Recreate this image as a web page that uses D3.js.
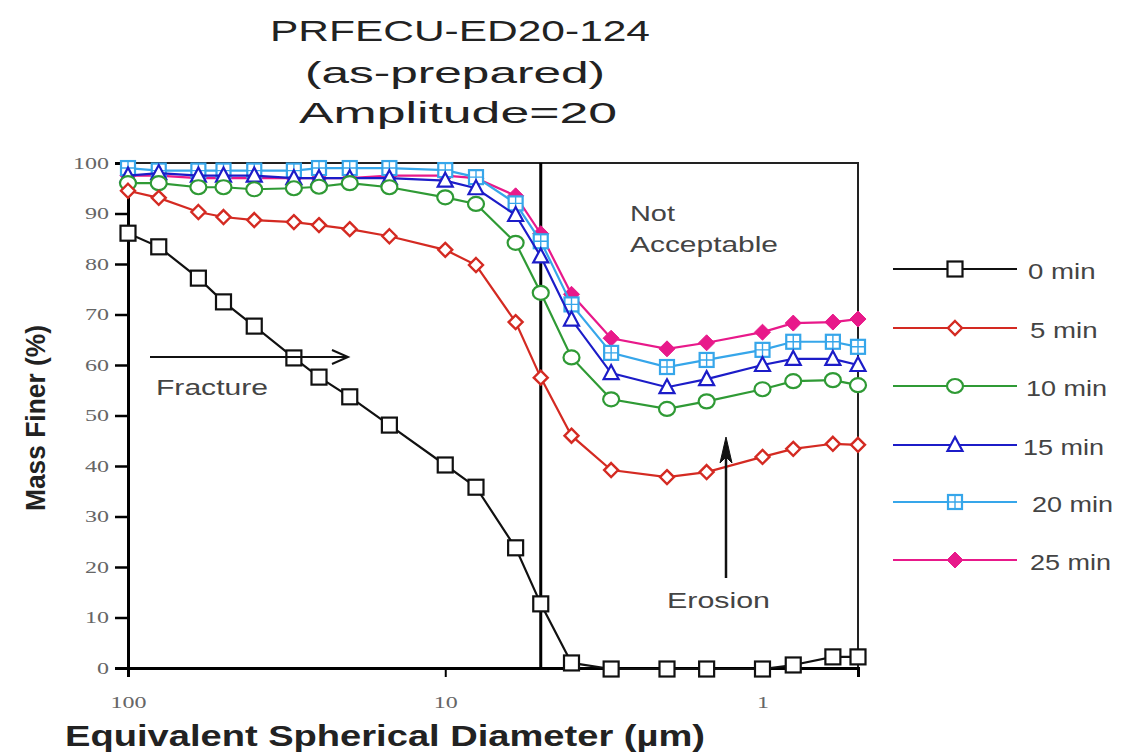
<!DOCTYPE html>
<html>
<head>
<meta charset="utf-8">
<script src="https://cdn.jsdelivr.net/npm/d3@7"></script>
<style>
  body { margin: 0; background: #fff; }
  svg { display: block; }
</style>
</head>
<body>
<svg id="chart" width="1127" height="753"></svg>
<script>
// Particle size distribution, PRFECU-ED20-124, sonication amplitude 20
const diameters = [100, 80, 60, 50, 40, 30, 25, 20, 15, 10, 8, 6, 5, 4, 3, 2, 1.5, 1, 0.8, 0.6, 0.5];
const seriesNames = ["0 min", "5 min", "10 min", "15 min", "20 min", "25 min"];
const finer0  = [86.1, 83.4, 77.2, 72.5, 67.7, 61.4, 57.6, 53.7, 48.1, 40.2, 35.8, 23.8, 12.7, 1.0, -0.2, -0.2, -0.2, -0.2, 0.6, 2.2, 2.2];
const finer5  = [94.5, 93.1, 90.3, 89.3, 88.7, 88.3, 87.7, 86.9, 85.5, 82.8, 79.8, 68.5, 57.5, 46.0, 39.2, 37.8, 38.8, 41.8, 43.4, 44.4, 44.2];
const finer10 = [96.0, 96.0, 95.2, 95.2, 94.8, 95.0, 95.3, 96.0, 95.2, 93.2, 91.9, 84.2, 74.3, 61.5, 53.2, 51.3, 52.8, 55.2, 56.8, 57.0, 56.0];
const finer15 = [97.5, 98.0, 97.5, 97.5, 97.5, 97.0, 97.0, 97.0, 97.0, 96.5, 95.0, 89.7, 81.5, 69.0, 58.4, 55.6, 57.2, 60.0, 61.2, 61.2, 60.0];
const finer20 = [99.0, 98.5, 98.5, 98.5, 98.5, 98.5, 99.0, 99.0, 99.0, 98.6, 97.2, 92.0, 84.5, 72.0, 62.4, 59.6, 61.0, 63.0, 64.6, 64.6, 63.6];
const finer25 = [97.5, 97.5, 97.0, 97.0, 97.0, 97.0, 97.0, 97.0, 97.5, 97.5, 97.0, 93.5, 86.0, 74.0, 65.3, 63.2, 64.4, 66.5, 68.3, 68.5, 69.1];
const xTickValues = [100, 10, 1];
const xTickLabels = ["100", "10", "1"];
const yTickValues = [0, 10, 20, 30, 40, 50, 60, 70, 80, 90, 100];
const cutoffDiameter = 5;

const svg = d3.select("#chart");
const plotLeft = 128, plotRight = 858, plotTop = 163, plotBottom = 668;

const x = d3.scaleLog().domain([100, 0.5]).range([plotLeft, plotRight]);
const y = d3.scaleLinear().domain([0, 100]).range([plotBottom, plotTop]);

const sans = "'Liberation Sans', Arial, sans-serif";
const serif = "'Liberation Serif', 'Times New Roman', serif";

function label(g, px, py, str, size, opts = {}) {
  const t = g.append("text")
    .attr("x", px).attr("y", py)
    .attr("font-family", opts.family || sans)
    .attr("font-size", size)
    .attr("font-weight", opts.weight || "normal")
    .attr("fill", opts.fill || "#333")
    .attr("text-anchor", opts.anchor || "start")
    .text(str);
  if (opts.width) t.attr("textLength", opts.width).attr("lengthAdjust", "spacingAndGlyphs");
  if (opts.rotate) t.attr("transform", `rotate(${opts.rotate},${px},${py})`);
  return t;
}

// Title
const titleG = svg.append("g");
label(titleG, 460, 41, "PRFECU-ED20-124", 30, { anchor: "middle", width: 380, fill: "#222" });
label(titleG, 455, 83, "(as-prepared)", 30, { anchor: "middle", width: 300, fill: "#222" });
label(titleG, 458, 123, "Amplitude=20", 30, { anchor: "middle", width: 318, fill: "#222" });

// Frame (top and right)
svg.append("path")
  .attr("d", `M${plotLeft},${plotTop}H${plotRight}V${plotBottom}`)
  .attr("fill", "none").attr("stroke", "#222").attr("stroke-width", 2);

// Y axis
const yAxis = d3.axisLeft(y).tickValues(yTickValues).tickSize(13).tickPadding(6).tickFormat(d3.format("d"));
const yG = svg.append("g").attr("transform", `translate(${plotLeft},0)`).call(yAxis);
yG.select(".domain").attr("stroke", "#000").attr("stroke-width", 3);
yG.selectAll(".tick line").attr("stroke", "#000").attr("stroke-width", 2.5);
yG.selectAll(".tick text")
  .attr("font-family", serif).attr("font-size", 16).attr("fill", "#666")
  .each(function () {
    const s = d3.select(this);
    s.attr("textLength", s.text().length * 12).attr("lengthAdjust", "spacingAndGlyphs");
  });

// X axis
const xAxis = d3.axisBottom(x).tickValues(xTickValues).tickSize(9).tickPadding(20)
  .tickFormat((d, i) => xTickLabels[i]);
const xG = svg.append("g").attr("transform", `translate(0,${plotBottom})`).call(xAxis);
xG.select(".domain").attr("stroke", "#000").attr("stroke-width", 3);
xG.selectAll(".tick line").attr("stroke", "#000").attr("stroke-width", 2);
xG.selectAll(".tick text")
  .attr("font-family", serif).attr("font-size", 16).attr("fill", "#666")
  .each(function () {
    const s = d3.select(this);
    s.attr("textLength", s.text().length * 12).attr("lengthAdjust", "spacingAndGlyphs");
  });

// Axis titles
label(svg, 385, 746, "Equivalent Spherical Diameter (µm)", 30, { anchor: "middle", width: 640, weight: "bold", fill: "#222" });
label(svg, 45, 418, "Mass Finer (%)", 28, { anchor: "middle", width: 186, weight: "bold", fill: "#222", rotate: -90 });

// Acceptance cut-off
svg.append("line")
  .attr("x1", x(cutoffDiameter)).attr("x2", x(cutoffDiameter))
  .attr("y1", plotTop).attr("y2", plotBottom)
  .attr("stroke", "#000").attr("stroke-width", 3);

// Marker shapes
const markers = {
  square: (g, c) => g.append("rect").attr("x", -7.5).attr("y", -7.5).attr("width", 15).attr("height", 15)
    .attr("fill", "#fff").attr("stroke", c).attr("stroke-width", 2.2),
  diamond: (g, c) => g.append("path").attr("d", "M0,-7L7,0L0,7L-7,0Z")
    .attr("fill", "#fff").attr("stroke", c).attr("stroke-width", 2.4),
  circle: (g, c) => g.append("ellipse").attr("rx", 8).attr("ry", 7)
    .attr("fill", "#fff").attr("stroke", c).attr("stroke-width", 2.2),
  triangle: (g, c) => g.append("path").attr("d", "M0,-8L7.5,6L-7.5,6Z")
    .attr("fill", "#fff").attr("stroke", c).attr("stroke-width", 2.2),
  crossSquare: (g, c) => {
    g.append("rect").attr("x", -7).attr("y", -7).attr("width", 14).attr("height", 14)
      .attr("fill", "#fff").attr("stroke", c).attr("stroke-width", 2.2);
    g.append("path").attr("d", "M0,-7V7M-7,0H7").attr("stroke", c).attr("stroke-width", 1.4);
  },
  filledDiamond: (g, c) => g.append("path").attr("d", "M0,-8L8,0L0,8L-8,0Z")
    .attr("fill", c).attr("stroke", c).attr("stroke-width", 1)
};

const series = [
  { name: seriesNames[0], values: finer0,  color: "#111111", marker: "square" },
  { name: seriesNames[1], values: finer5,  color: "#d42a22", marker: "diamond" },
  { name: seriesNames[2], values: finer10, color: "#2f9a35", marker: "circle" },
  { name: seriesNames[3], values: finer15, color: "#1c1cc8", marker: "triangle" },
  { name: seriesNames[4], values: finer20, color: "#36a6ea", marker: "crossSquare" },
  { name: seriesNames[5], values: finer25, color: "#e8198a", marker: "filledDiamond" }
];

const line = d3.line().x(d => x(d.d)).y(d => y(d.v));

// Draw series from last to first so the 0 min curve sits on top
series.slice().reverse().forEach(s => {
  const pts = diameters.map((d, i) => ({ d, v: s.values[i] }));
  const g = svg.append("g");
  g.append("path").datum(pts).attr("d", line)
    .attr("fill", "none").attr("stroke", s.color).attr("stroke-width", 2.2);
  pts.forEach(p => {
    const m = g.append("g").attr("transform", `translate(${x(p.d)},${y(p.v)})`);
    markers[s.marker](m, s.color);
  });
});

// Annotations
const ann = svg.append("g");
label(ann, 630, 221, "Not", 22, { width: 45, fill: "#444" });
label(ann, 630, 252, "Acceptable", 22, { width: 148, fill: "#444" });
label(ann, 156, 395, "Fracture", 22, { width: 112, fill: "#444" });
label(ann, 667, 608, "Erosion", 22, { width: 103, fill: "#444" });

// Fracture arrow (pointing toward finer sizes)
ann.append("line").attr("x1", 150).attr("x2", 346).attr("y1", 357).attr("y2", 357)
  .attr("stroke", "#111").attr("stroke-width", 2);
ann.append("path").attr("d", "M332,350L348,357L332,364")
  .attr("fill", "none").attr("stroke", "#111").attr("stroke-width", 2);

// Erosion arrow (pointing upward)
ann.append("line").attr("x1", 726).attr("x2", 726).attr("y1", 578).attr("y2", 448)
  .attr("stroke", "#111").attr("stroke-width", 2.5);
ann.append("path").attr("d", "M726,437L732,463L726,457L720,463Z")
  .attr("fill", "#111").attr("stroke", "#111").attr("stroke-width", 1);

// Legend
const legend = svg.append("g");
const legendRows = [269, 328, 386, 445, 502, 560];
const legendTextX = [1028, 1030, 1026, 1023, 1032, 1030];
series.forEach((s, i) => {
  const ly = legendRows[i];
  legend.append("line").attr("x1", 893).attr("x2", 1017).attr("y1", ly).attr("y2", ly)
    .attr("stroke", s.color).attr("stroke-width", 2);
  const m = legend.append("g").attr("transform", `translate(955,${ly})`);
  markers[s.marker](m, s.color);
  label(legend, legendTextX[i], ly + 10, s.name, 22, { fill: "#444", width: s.name.length * 13.5 });
});
</script>
</body>
</html>
